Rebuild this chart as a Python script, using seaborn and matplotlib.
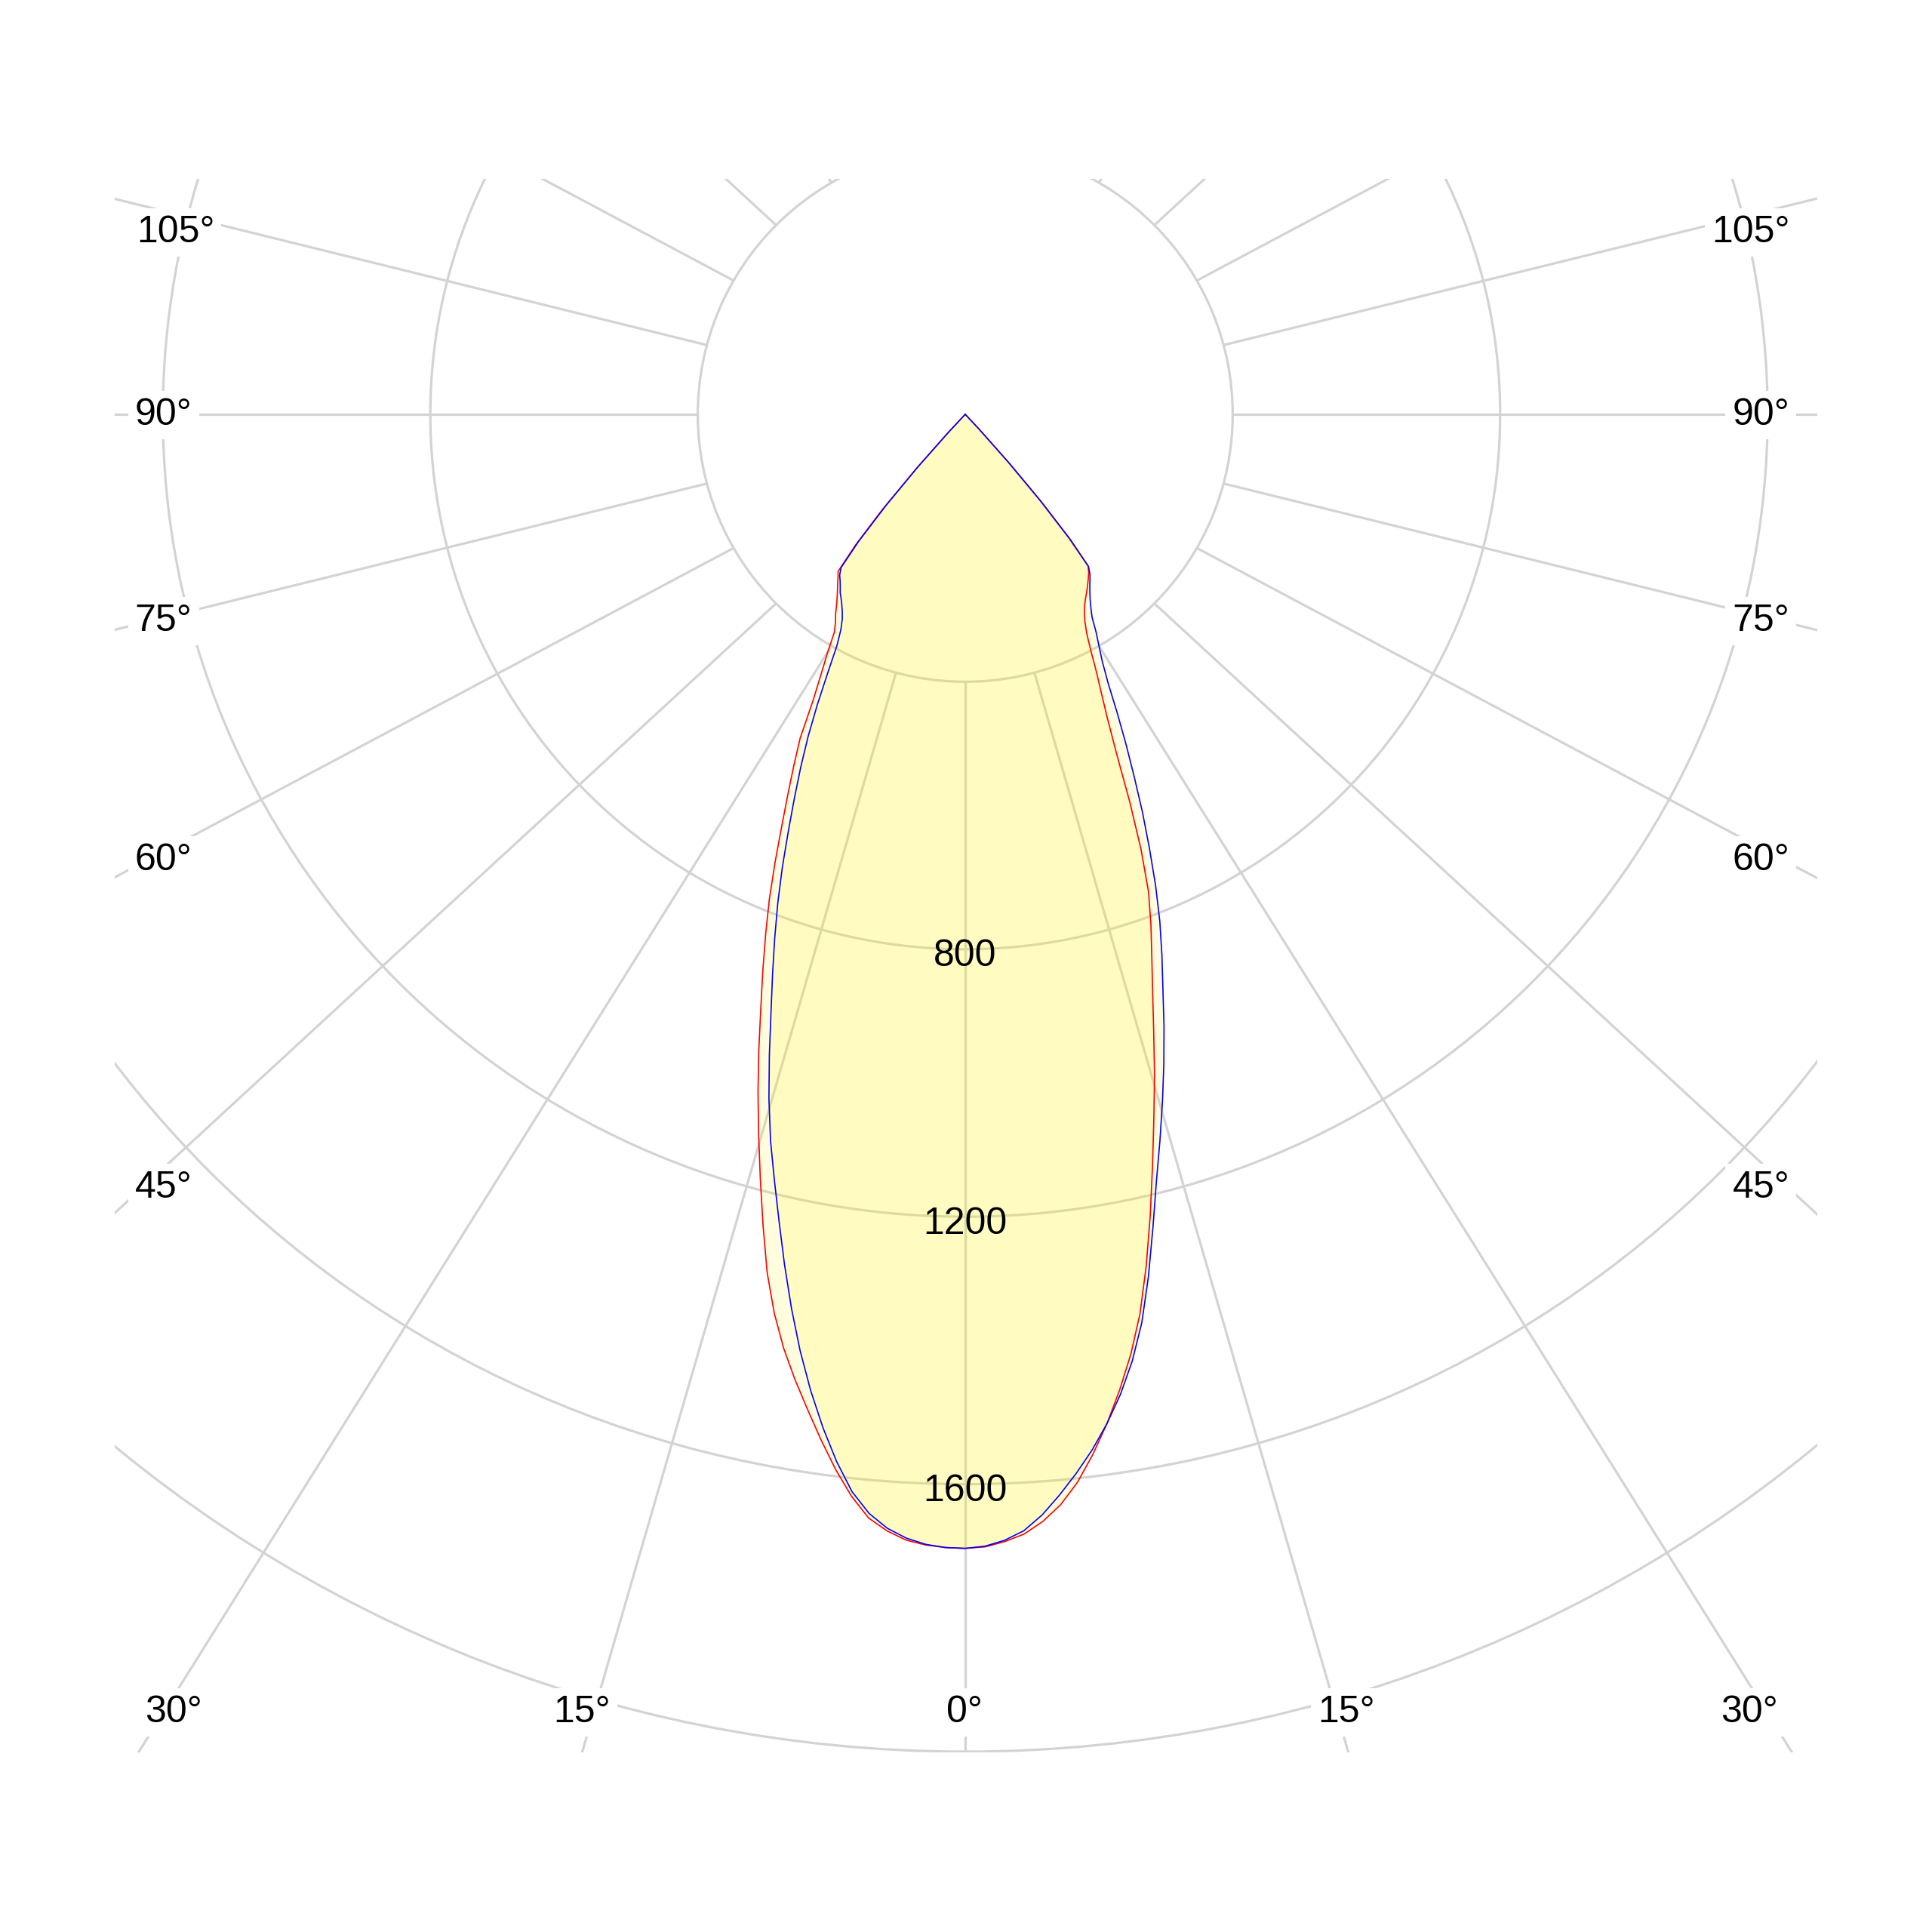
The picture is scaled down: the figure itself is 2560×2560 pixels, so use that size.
import numpy as np
import pandas as pd
import matplotlib
matplotlib.use("Agg")
import matplotlib.pyplot as plt
from matplotlib.patches import Circle
import seaborn as sns

# ---------------- data (luminous intensity, cd, per 1° of gamma) ----------------
gamma = list(range(0, 45)) + [90]
red_left = [1696, 1695, 1692, 1686, 1674, 1657, 1627, 1590, 1549, 1507,
            1466, 1423, 1374, 1317, 1250, 1184, 1121, 1060, 999, 939,
            885, 833, 782, 728, 675, 628, 585, 544, 485, 445,
            412, 380, 366, 356, 344, 334, 325, 317, 309, 302,
            255, 190, 110, 40, 0, 0]
red_right = [1696, 1694, 1687, 1677, 1660, 1637, 1606, 1567, 1524, 1477,
             1427, 1370, 1302, 1230, 1158, 1090, 1027, 964, 907, 857,
             812, 765, 702, 630, 558, 505, 465, 432, 400, 375,
             358, 346, 337, 330, 324, 318, 312, 306, 300, 292,
             240, 170, 95, 30, 0, 0]
blue_left = [1696, 1695, 1691, 1683, 1670, 1650, 1620, 1578, 1530, 1478,
             1422, 1362, 1300, 1238, 1180, 1125, 1065, 1002, 940, 885,
             833, 782, 730, 677, 628, 582, 536, 487, 438, 396,
             372, 357, 347, 339, 332, 326, 318, 311, 305, 295,
             248, 180, 105, 35, 0, 0]
blue_right = [1696, 1693, 1685, 1672, 1650, 1622, 1592, 1560, 1524, 1484,
              1438, 1384, 1318, 1248, 1182, 1125, 1070, 1016, 962, 908,
              860, 812, 760, 705, 652, 598, 548, 500, 455, 423,
              400, 380, 358, 345, 334, 325, 317, 310, 303, 293,
              245, 175, 100, 32, 0, 0]
planes = ["C0-C180", "C90-C270"]
ring_values = [400, 800, 1200, 1600, 2000]
ring_labels = ["800", "1200", "1600"]
spoke_angles = list(range(0, 181, 15))
angle_labels_left = ["105°", "90°", "75°", "60°", "45°", "30°", "15°"]
angle_labels_right = ["105°", "90°", "75°", "60°", "45°", "30°", "15°"]

# ---------------- style ----------------
sns.set_theme(style="white")
plt.rcParams["font.family"] = ["Liberation Sans", "DejaVu Sans"]
plt.rcParams["text.color"] = "black"
grid_c = "#d3d3d3"

fig = plt.figure(figsize=(25.6, 25.6), dpi=100)
fig.patch.set_facecolor("white")
ax = fig.add_axes([152 / 2560, 1 - 2322 / 2560, 2256 / 2560, 2085 / 2560])

# grid circles
for r in ring_values:
    ax.add_patch(Circle((0, 0), r, fill=False, ec=grid_c, lw=2.3, zorder=1))

# spokes (start at inner ring)
r0 = ring_values[0]
for a in spoke_angles:
    t = np.radians(a)
    for side in (-1, 1):
        if a in (0, 180) and side == 1:
            continue
        p0 = np.array([side * r0 * np.sin(t), -r0 * np.cos(t)])
        d = np.array([side * 1.085 * np.sin(t), -np.cos(t)])
        d = d / np.linalg.norm(d)
        p1 = p0 + 6000 * d
        ax.plot([p0[0], p1[0]], [p0[1], p1[1]], color=grid_c, lw=2.3,
                solid_capstyle="butt", zorder=1)


def outline(left, right):
    g = np.radians(gamma)
    left = np.asarray(left, float)
    right = np.asarray(right, float)
    xl, yl = -left * np.sin(g), -left * np.cos(g)
    xr, yr = right * np.sin(g), -right * np.cos(g)
    return np.concatenate([xl[::-1], xr]), np.concatenate([yl[::-1], yr])


xr_, yr_ = outline(red_left, red_right)
xb_, yb_ = outline(blue_left, blue_right)

for xx, yy in ((xr_, yr_), (xb_, yb_)):
    ax.fill(xx, yy, color="#FFF500", alpha=0.13, lw=0, zorder=2)

df = pd.concat([
    pd.DataFrame({"x": xr_, "y": yr_, "plane": planes[0]}),
    pd.DataFrame({"x": xb_, "y": yb_, "plane": planes[1]}),
], ignore_index=True)
sns.lineplot(data=df, x="x", y="y", hue="plane", hue_order=planes, sort=False,
             estimator=None, palette={planes[0]: "#ff0000", planes[1]: "#0000ff"},
             lw=1.2, legend=False, ax=ax, zorder=3)
ax.set_xlim(-1272.0, 1274.3)
ax.set_ylim(-2001.1, 352.1)
ax.axis("off")

# radial value labels
for lab in ring_labels:
    r = float(lab)
    ax.text(0, -(r + 25.4), lab, ha="center", va="baseline", fontsize=36,
            color="black", zorder=5)

# angle labels (positions in cd units)
box = dict(boxstyle="square,pad=0.18", fc="white", ec="none")
left_pos = [(-1181, 257), (-1199, -16), (-1199, -324), (-1199, -682),
            (-1199, -1172), (-1184, -1956), (-573, -1956)]
right_pos = [(1175, 257), (1190, -16), (1190, -324), (1190, -682),
             (1190, -1172), (1173, -1956), (570, -1956)]
for lab, (x, y) in zip(angle_labels_left, left_pos):
    ax.text(x, y, lab, ha="center", va="baseline", fontsize=36, color="black",
            bbox=box, zorder=5)
for lab, (x, y) in zip(angle_labels_right, right_pos):
    ax.text(x, y, lab, ha="center", va="baseline", fontsize=36, color="black",
            bbox=box, zorder=5)
ax.text(-1, -1956, "0°", ha="center", va="baseline", fontsize=36, color="black",
        bbox=box, zorder=5)

fig.savefig("out.png", dpi=100, facecolor="white")
